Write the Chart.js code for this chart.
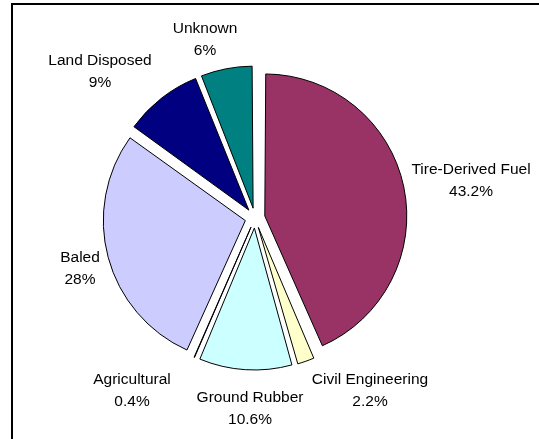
<!DOCTYPE html>
<html>
<head>
<meta charset="utf-8">
<script src="https://cdn.jsdelivr.net/npm/chart.js@4.4.1/dist/chart.umd.min.js"></script>
<style>
  html, body { margin: 0; padding: 0; background: #fff; overflow: hidden; }
  #wrap { position: relative; width: 539px; height: 439px; overflow: hidden; }
  #frame { position: absolute; left: 11px; top: 3px; width: 600px; height: 500px; border: 2px solid #000; }
  #pieChart { position: absolute; left: 0; top: 0; }
</style>
</head>
<body>
<div id="wrap">
  <div id="frame"></div>
  <canvas id="pieChart" width="539" height="439"></canvas>
</div>
<script>
// data
const categories = ["Tire-Derived Fuel", "Civil Engineering", "Ground Rubber", "Agricultural", "Baled", "Land Disposed", "Unknown"];
const shares = [43.2, 2.2, 10.6, 0.4, 28, 9, 6];
const sliceColors = ["#993366", "#FFFFCC", "#CCFFFF", "#0066CC", "#CCCCFF", "#000080", "#008080"];

// label block centres, relative to the pie centre
const labelOffsets = [[216, -37], [115, 173], [-5, 191], [-123, 173], [-175, 51], [-155, -146], [-50, -178]];

// keep every exploded slice at the same radius
const evenRadius = {
  id: "evenRadius",
  beforeDatasetsDraw(chart) {
    const meta = chart.getDatasetMeta(0);
    const base = meta.controller.outerRadius;
    meta.data.forEach(arc => {
      const off = (arc.options.offset || 0) / 4;
      const fix = 1 - Math.sin(Math.min(Math.PI, arc.circumference));
      arc.outerRadius = base - off * fix;
    });
  }
};

const sliceLabels = {
  id: "sliceLabels",
  afterDatasetsDraw(chart) {
    const ctx = chart.ctx;
    const first = chart.getDatasetMeta(0).data[0];
    ctx.save();
    ctx.font = "15.5px 'Liberation Sans', Arial, sans-serif";
    ctx.fillStyle = "#000";
    ctx.textAlign = "center";
    ctx.textBaseline = "middle";
    categories.forEach((name, i) => {
      const x = first.x + labelOffsets[i][0];
      const y = first.y + labelOffsets[i][1];
      ctx.fillText(name, x, y - 11);
      ctx.fillText(shares[i] + "%", x, y + 11);
    });
    ctx.restore();
  }
};

new Chart(document.getElementById("pieChart"), {
  type: "pie",
  data: {
    labels: categories,
    datasets: [{
      data: shares,
      backgroundColor: sliceColors,
      borderColor: "#000",
      borderWidth: 1,
      offset: 40,
      radius: 142
    }]
  },
  options: {
    responsive: false,
    animation: false,
    layout: { padding: { left: 0, right: 29, top: 0, bottom: 3 } },
    plugins: {
      legend: { display: false },
      tooltip: { enabled: false }
    }
  },
  plugins: [evenRadius, sliceLabels]
});
</script>
</body>
</html>
